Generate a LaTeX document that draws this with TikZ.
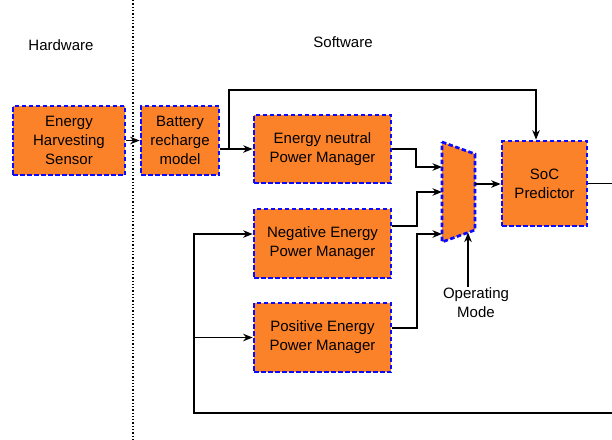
\documentclass[tikz,border=0pt]{standalone}
\usepackage{fontspec}
\setmainfont{Liberation Sans}
\usetikzlibrary{arrows.meta}
\definecolor{boxfill}{RGB}{252,130,42}
\definecolor{boxline}{RGB}{10,10,255}
\tikzset{
  blk/.style={draw=boxline, fill=boxfill, line width=2.7pt, dash pattern=on 4.5pt off 2.5pt,
    align=center, inner sep=0pt, font=\fontsize{15}{19}\selectfont},
  arr/.style={line width=1.4pt, -{Stealth[length=9.5pt,width=7.5pt,inset=3pt]}},
  ln/.style={line width=1.4pt},
  lbl/.style={align=center, font=\fontsize{15}{19}\selectfont, inner sep=0pt}
}
\begin{document}
\begin{tikzpicture}[x=1pt,y=-1pt]
\useasboundingbox (0,0) rectangle (612,439);
% divider
\draw[line width=1.3pt, dotted] (133,0) -- (133,439);
\node[lbl] (hw) at (61,45) {Hardware};
\node[lbl] (sw) at (343,42) {Software};
% blocks
\node[blk, minimum width=112pt, minimum height=69pt] (sens) at (69,140.5) {Energy\\Harvesting\\Sensor};
\node[blk, minimum width=78pt, minimum height=69pt] (bat) at (180,140.5) {Battery\\recharge\\model};
\node[blk, minimum width=137pt, minimum height=68pt] (en) at (322.5,149) {Energy neutral\\Power Manager};
\node[blk, minimum width=137pt, minimum height=69pt] (neg) at (322.5,243.5) {Negative Energy\\Power Manager};
\node[blk, minimum width=137pt, minimum height=69pt] (pos) at (322.5,337.5) {Positive Energy\\Power Manager};
\node[blk, minimum width=85pt, minimum height=85pt] (soc) at (544.5,183.5) {SoC\\Predictor};
% mux
\draw[draw=boxline, fill=boxfill, line width=2.7pt, dash pattern=on 4.5pt off 2.5pt]
  (442,142) -- (475,154) -- (475,230) -- (442,242) -- cycle;
\coordinate (mA) at (442,167);
\coordinate (mB) at (442,192);
\coordinate (mC) at (442,234);
\coordinate (mO) at (475,184);
\coordinate (mBot) at (468,232.6);
\node[lbl] (om) at (476,302.5) {Operating\\Mode};
% connectors
\draw[arr] (sens.east) -- (bat.west);
\draw[arr] ([yshift=-8.5pt]bat.east) -- (en.west);
\draw[arr] ([yshift=-8.5pt]bat.east) -- (229,149) -- (229,90) -| ([xshift=-8.5pt]soc.north);
\draw[arr] (en.east) -- (416,149) |- (mA);
\draw[arr] ([yshift=17.5pt]neg.east) -- (417,226) |- (mB);
\draw[arr] ([yshift=9.5pt]pos.east) -- (417,328) |- (mC);
\draw[arr] (mO) -- (soc.west |- mO);
\draw[arr] (om.north -| mBot) -- (mBot);
\coordinate (out) at (612,183.5);
\draw[ln] (soc.east |- out) -- (out);
\coordinate (fb) at (612,413);
\draw[arr] (fb) -- (194,413) -- (194,234) -- ([yshift=9.5pt]neg.west);
\draw[arr] (194,337.5) -- (pos.west);
\end{tikzpicture}
\end{document}
